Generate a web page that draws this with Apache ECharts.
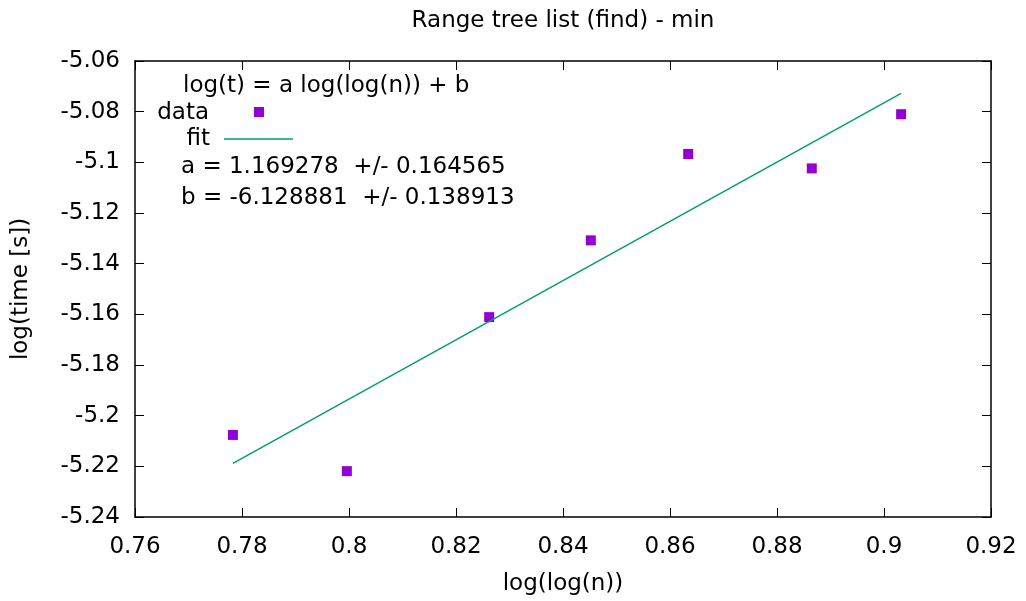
<!DOCTYPE html>
<html>
<head>
<meta charset="utf-8">
<script src="https://cdn.jsdelivr.net/npm/echarts@6/dist/echarts.min.js"></script>
<style>html,body{margin:0;padding:0;background:#fff;}#c{width:1026px;height:601px;}</style>
</head>
<body>
<div id="c"></div>
<script>
// Data
const dataX = [0.7783, 0.7996, 0.8262, 0.8452, 0.8634, 0.8865, 0.9032];
const dataY = [-5.2076, -5.2219, -5.1611, -5.1308, -5.0967, -5.1024, -5.0810];
const fitX = [0.7783, 0.9032];
const fitY = [-5.2188, -5.0728];
const fitLabel = 'log(t) = a log(log(n)) + b';
const paramA = 'a = 1.169278  +/- 0.164565';
const paramB = 'b = -6.128881  +/- 0.138913';
const titleText = 'Range tree list (find) - min';
const xName = 'log(log(n))';
const yName = 'log(time [s])';

const FONT = 'DejaVu Sans';
const FS = 23;
const chart = echarts.init(document.getElementById('c'), null, {renderer: 'canvas'});

const fmt = v => String(parseFloat(v.toFixed(2)));
const axisCommon = {
  axisLine: {show: true, onZero: false, lineStyle: {color: '#000', width: 1.5}},
  axisTick: {show: true, inside: true, length: 9, lineStyle: {color: '#000', width: 1}},
  splitLine: {show: false}
};

chart.setOption({
  animation: false,
  backgroundColor: '#fff',
  grid: {left: 135, right: 35, top: 61, bottom: 84},
  xAxis: [
    Object.assign({
      type: 'value', min: 0.76, max: 0.92, interval: 0.02, position: 'bottom',
      name: xName, nameLocation: 'middle', nameGap: 56,
      nameTextStyle: {fontFamily: FONT, fontSize: FS, color: '#000'},
      axisLabel: {fontFamily: FONT, fontSize: FS, color: '#000', margin: 19, formatter: fmt}
    }, axisCommon),
    Object.assign({
      type: 'value', min: 0.76, max: 0.92, interval: 0.02, position: 'top',
      axisLabel: {show: false}
    }, axisCommon)
  ],
  yAxis: [
    Object.assign({
      type: 'value', min: -5.24, max: -5.06, interval: 0.02, position: 'left',
      name: yName, nameLocation: 'middle', nameGap: 102, nameRotate: 90,
      nameTextStyle: {fontFamily: FONT, fontSize: FS, color: '#000'},
      axisLabel: {fontFamily: FONT, fontSize: FS, color: '#000', margin: 15, formatter: fmt}
    }, axisCommon),
    Object.assign({
      type: 'value', min: -5.24, max: -5.06, interval: 0.02, position: 'right',
      axisLabel: {show: false}
    }, axisCommon)
  ],
  series: [
    {
      name: 'data', type: 'scatter', xAxisIndex: 0, yAxisIndex: 0,
      symbol: 'rect', symbolSize: 10,
      itemStyle: {color: '#9400d3', opacity: 1},
      data: dataX.map((x, i) => [x, dataY[i]])
    },
    {
      name: 'fit', type: 'line', xAxisIndex: 0, yAxisIndex: 0,
      showSymbol: false, symbol: 'none',
      lineStyle: {color: '#009e73', width: 1.5},
      data: fitX.map((x, i) => [x, fitY[i]])
    }
  ],
  graphic: [
    {type: 'text', x: 563, y: 21, style: {text: titleText, align: 'center', verticalAlign: 'middle', fontFamily: FONT, fontSize: FS, fill: '#000'}},
    {type: 'text', x: 183, y: 86, style: {text: fitLabel, align: 'left', verticalAlign: 'middle', fontFamily: FONT, fontSize: FS, fill: '#000'}},
    {type: 'text', x: 209, y: 113, style: {text: 'data', align: 'right', verticalAlign: 'middle', fontFamily: FONT, fontSize: FS, fill: '#000'}},
    {type: 'rect', shape: {x: 254, y: 107, width: 10, height: 10}, style: {fill: '#9400d3'}},
    {type: 'text', x: 210, y: 139, style: {text: 'fit', align: 'right', verticalAlign: 'middle', fontFamily: FONT, fontSize: FS, fill: '#000'}},
    {type: 'line', shape: {x1: 224, y1: 139, x2: 293, y2: 139}, style: {stroke: '#009e73', lineWidth: 1.5}},
    {type: 'text', x: 181, y: 167, style: {text: paramA, align: 'left', verticalAlign: 'middle', fontFamily: FONT, fontSize: FS, fill: '#000'}},
    {type: 'text', x: 181, y: 198, style: {text: paramB, align: 'left', verticalAlign: 'middle', fontFamily: FONT, fontSize: FS, fill: '#000'}}
  ]
});
</script>
</body>
</html>
